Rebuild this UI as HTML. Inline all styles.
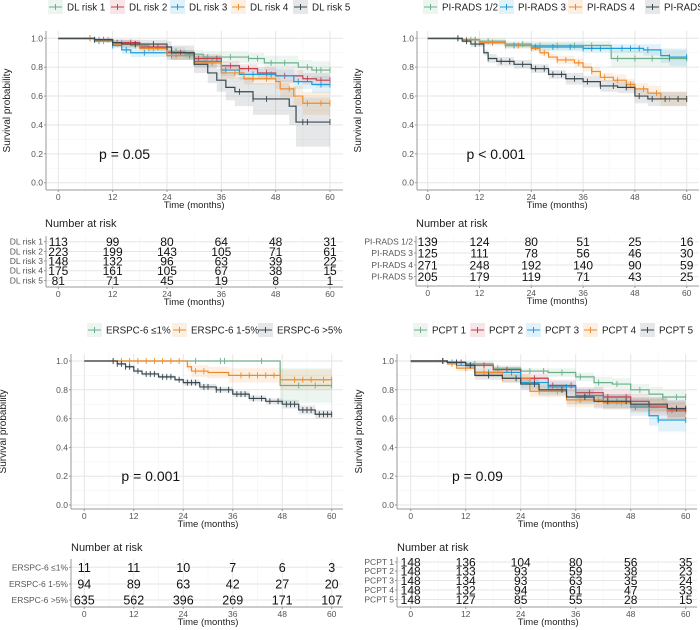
<!DOCTYPE html>
<html><head><meta charset="utf-8">
<style>
html,body{margin:0;padding:0;background:#fff;}
svg{display:block;font-family:"Liberation Sans",sans-serif;}
</style></head>
<body>
<svg id="fig" width="700" height="630" viewBox="0 0 700 630" xmlns="http://www.w3.org/2000/svg"></svg>
<script>
// ---------- DATA ----------
// Panel A: DL risk
const dlNames = ["DL risk 1","DL risk 2","DL risk 3","DL risk 4","DL risk 5"];
const dl1T=[0,8,12,16,20,24,28,32,42,45.5,53,56], dl1S=[1,.99,.97,.95,.93,.91,.89,.87,.86,.83,.80,.78], dl1C=[.01,.01,.02,.02,.02,.03,.03,.04,.04,.05,.05,.06];
const dl2T=[0,8,12,18,24,30,36,40,44,48,54,57], dl2S=[1,.99,.97,.94,.90,.86,.81,.79,.76,.74,.72,.71], dl2C=[.01,.01,.02,.02,.02,.03,.03,.03,.04,.04,.04,.05];
const dl3T=[0,8,12,14,16,24,30,36,40,48,52,56], dl3S=[1,.98,.95,.92,.90,.88,.84,.78,.75,.74,.70,.68], dl3C=[.01,.01,.02,.03,.03,.03,.04,.04,.04,.05,.05,.06];
const dl4T=[0,8,12,18,24,30,36,41,48,49,52,54], dl4S=[1,.98,.96,.93,.88,.83,.76,.72,.70,.65,.60,.55], dl4C=[.01,.01,.02,.02,.03,.03,.04,.04,.05,.06,.07,.08];
const dl5T=[0,8,12,14,24,25,30,33,35,37,39,43,51,52.5], dl5S=[1,.99,.97,.96,.94,.90,.82,.76,.71,.66,.63,.58,.53,.42], dl5C=[.01,.01,.02,.03,.04,.05,.06,.07,.08,.09,.10,.11,.13,.17];
const dl1Cens=[7,9,11,14,17,20,26,33,38,42,44,47,50,55,57,58,60], dl2Cens=[7,10,13,16,22,27,31,35,38,42,46,50,55,58,60];
const dl3Cens=[7,9,12,15,19,25,29,34,37,43,47,53,58,60], dl4Cens=[7,10,13,17,21,26,30,34,39,43,46,51,55,58,60], dl5Cens=[8,12,17,21,24,40,43,46,54,55,60];
const dlRisk=[[113,99,80,64,48,31],[223,199,143,105,71,61],[148,132,96,63,39,22],[175,161,105,67,38,15],[81,71,45,19,8,1]];
// Panel B: PI-RADS
const prNames=["PI-RADS 1/2","PI-RADS 3","PI-RADS 4","PI-RADS 5"];
const pr1T=[0,8,12,18,24,42.5], pr1S=[1,.99,.98,.96,.95,.86], pr1C=[.01,.01,.02,.02,.03,.06];
const pr2T=[0,8,12,18,24,36,50,54,56], pr2S=[1,.99,.97,.95,.94,.93,.92,.88,.87], pr2C=[.01,.01,.02,.02,.03,.03,.04,.05,.06];
const pr3T=[0,8,12,18,24,26,28,30,34,36,38,40,43,46,48,51,54], pr3S=[1,.99,.97,.95,.93,.90,.87,.85,.83,.80,.77,.73,.71,.68,.65,.62,.58], pr3C=[.01,.01,.01,.02,.02,.02,.02,.03,.03,.03,.03,.03,.04,.04,.04,.05,.05];
const pr4T=[0,8,10,13,14,16,20,24,28,32,36,40,44,48,51], pr4S=[1,.98,.96,.90,.86,.84,.82,.79,.75,.72,.70,.67,.66,.60,.58], pr4C=[.01,.01,.02,.02,.03,.03,.03,.03,.03,.04,.04,.04,.04,.05,.05];
const pr1Cens=[7,10,14,18,22,26,30,34,38,44,48,52,56,60], pr2Cens=[7,11,15,20,25,29,33,36,38,40,45,47,49,51,56,60];
const pr3Cens=[7,9,12,15,18,21,24,27,30,32,35,38,41,44,47,50,53,56,58,60], pr4Cens=[7,9,11,14,17,19,22,25,27,29,31,34,37,40,43,46,49,52,55,58,60];
const prRisk=[[139,124,80,51,25,16],[125,111,78,56,46,30],[271,248,192,140,90,59],[205,179,119,71,43,25]];
// Panel C: ERSPC-6
const erNames=["ERSPC-6 \u22641%","ERSPC-6 1-5%","ERSPC-6 >5%"];
const er1T=[0,47.5], er1S=[1,.83], er1C=[0,.12];
const er2T=[0,25,26,30,35,47.5], er2S=[1,.96,.93,.92,.90,.87], er2C=[0,.03,.04,.04,.05,.07];
const er3T=[0,6,8,10,12,14,18,22,24,28,32,36,40,44,48,52,56], er3S=[1,1,.98,.96,.93,.91,.89,.87,.85,.82,.80,.77,.74,.72,.70,.66,.63], er3C=[0,0,.01,.01,.01,.01,.01,.01,.02,.02,.02,.02,.02,.02,.03,.03,.03];
const er1Cens=[27,33,34,43,52,56,60], er2Cens=[7,9,11,13,15,17,19,21,23,27,29,38,40,42,44,46,51,53,55,58,60];
const er3Cens=[7,8,9,10,11,13,15,16,17,19,20,21,23,25,26,27,29,30,32,33,35,37,38,39,41,43,45,47,49,50,51,53,54,55,57,58,59,60];
const erRisk=[[11,11,10,7,6,3],[94,89,63,42,27,20],[635,562,396,269,171,107]];
// Panel D: PCPT
const pcNames=["PCPT 1","PCPT 2","PCPT 3","PCPT 4","PCPT 5"];
const pc1T=[0,8,12,18,24,30,36,40,44,48,52,55], pc1S=[1,.99,.98,.95,.93,.92,.89,.85,.84,.80,.77,.75], pc1C=[.01,.01,.02,.02,.02,.03,.03,.04,.04,.04,.05,.05];
const pc2T=[0,8,12,18,24,30,36,42,48,52,56], pc2S=[1,.99,.97,.94,.88,.83,.78,.75,.72,.68,.66], pc2C=[.01,.01,.02,.02,.03,.04,.04,.05,.05,.06,.06];
const pc3T=[0,8,10,14,24,30,36,42,48,52,54], pc3S=[1,.99,.97,.92,.85,.82,.76,.72,.68,.62,.59], pc3C=[.01,.01,.02,.03,.04,.04,.05,.05,.06,.07,.08];
const pc4T=[0,8,10,14,20,26,34,42,48,56], pc4S=[1,.98,.95,.92,.88,.79,.73,.71,.69,.65], pc4C=[.01,.01,.02,.03,.03,.04,.05,.05,.05,.06];
const pc5T=[0,8,12,14,20,24,28,34,40,48,56], pc5S=[1,.99,.97,.90,.88,.84,.80,.75,.72,.70,.67], pc5C=[.01,.01,.02,.03,.03,.04,.04,.05,.05,.05,.06];
const pc1Cens=[7,10,14,19,26,29,33,37,41,45,50,55,58,60], pc2Cens=[7,11,16,21,27,31,35,39,43,47,52,57,60];
const pc3Cens=[7,9,13,17,22,26,30,34,38,45,49,54,60], pc4Cens=[7,9,12,16,20,28,32,37,41,46,52,56,60], pc5Cens=[7,10,13,17,23,27,33,38,43,47,52,58,60];
const pcRisk=[[148,136,104,80,56,35],[148,133,93,59,38,23],[148,134,93,63,35,24],[148,132,94,61,47,33],[148,127,85,55,28,15]];
const xTicks=[0,12,24,36,48,60];
const yTicks=[0,0.2,0.4,0.6,0.8,1.0];
// ---------- STYLE ----------
const COL={g:"#6DAE8A",r:"#C5404A",b:"#1E9BD6",o:"#EE8A2A",k:"#36474F"};
const NS="http://www.w3.org/2000/svg";
const svg=document.getElementById("fig");
function mk(tag,attrs,parent){const e=document.createElementNS(NS,tag);for(const k in attrs)e.setAttribute(k,attrs[k]);(parent||svg).appendChild(e);return e;}
function txt(s,attrs,parent){const e=mk("text",attrs,parent);e.textContent=s;return e;}

function survAt(T,S,t){let v=S[0];for(let i=0;i<T.length;i++){if(T[i]<=t)v=S[i];}return v;}

function panel(cfg){
  const g=mk("g",{});
  
  
  const X=t=>cfg.x0+(cfg.x60-cfg.x0)*t/60;
  const Y=v=>cfg.y0+(cfg.y1-cfg.y0)*v;
  const pr=cfg.plot;
  for(let m=6;m<=66;m+=12){const xx=X(m);if(xx<pr[2])mk("line",{x1:xx,x2:xx,y1:pr[1],y2:pr[3],stroke:"#f3f3f3","stroke-width":0.6},g);}
  for(let v=0.1;v<1.1;v+=0.2){const yy=Y(v);if(yy>pr[1])mk("line",{x1:pr[0],x2:pr[2],y1:yy,y2:yy,stroke:"#f3f3f3","stroke-width":0.6},g);}
  xTicks.forEach(t=>mk("line",{x1:X(t),x2:X(t),y1:pr[1],y2:pr[3],stroke:"#e6e6e6","stroke-width":1},g));
  yTicks.forEach(v=>mk("line",{x1:pr[0],x2:pr[2],y1:Y(v),y2:Y(v),stroke:"#e6e6e6","stroke-width":1},g));
  cfg.series.forEach(s=>{
    let up="",lo="";
    for(let i=0;i<s.T.length;i++){
      const t1=s.T[i],t2=i+1<s.T.length?s.T[i+1]:60;
      const hi=Math.min(1,s.S[i]+s.C[i]),lw=Math.max(0,s.S[i]-s.C[i]);
      up+=(i?"L":"M")+X(t1)+","+Y(hi)+"L"+X(t2)+","+Y(hi);
      lo="L"+X(t2)+","+Y(lw)+"L"+X(t1)+","+Y(lw)+lo;
    }
    const b=mk("path",{d:up+lo+"Z",fill:s.col,"fill-opacity":0.13,stroke:"none"},g);
    
    
  });
  cfg.series.forEach(s=>{
    let d="M"+X(0)+","+Y(s.S[0]);
    for(let i=1;i<s.T.length;i++){d+="H"+X(s.T[i])+"V"+Y(s.S[i]);}
    d+="H"+X(60);
    const p=mk("path",{d:d,fill:"none",stroke:s.col,"stroke-width":1.2},g);
    
    
    s.cens.forEach(t=>{
      const yy=Y(survAt(s.T,s.S,t)),xx=X(t);
      const c=mk("path",{d:"M"+xx+","+(yy-3)+"V"+(yy+3),stroke:s.col,"stroke-width":0.9},g);
      
      
    });
  });
  mk("line",{x1:pr[0],x2:pr[0],y1:pr[1],y2:pr[3],stroke:"#999","stroke-width":1},g);
  mk("line",{x1:pr[0],x2:pr[2],y1:pr[3],y2:pr[3],stroke:"#999","stroke-width":1},g);
  yTicks.forEach(v=>{
    mk("line",{x1:pr[0]-2,x2:pr[0],y1:Y(v),y2:Y(v),stroke:"#999"},g);
    const t=txt(v.toFixed(1),{x:pr[0]-3,y:Y(v)+3,"font-size":8.5,fill:"#555","text-anchor":"end"},g);
    
    
  });
  xTicks.forEach(v=>{
    mk("line",{x1:X(v),x2:X(v),y1:pr[3],y2:pr[3]+2,stroke:"#999"},g);
    const t=txt(String(v),{x:X(v),y:pr[3]+10,"font-size":8.5,fill:"#555","text-anchor":"middle"},g);
    
    
  });
  const xt=txt("Time (months)",{x:(X(0)+X(60))/2,y:pr[3]+18,"font-size":9.5,fill:"#222","text-anchor":"middle"},g);
  
  
  const yt=txt("Survival probability",{x:0,y:0,"font-size":10,fill:"#222","text-anchor":"middle",transform:"translate("+cfg.ytx+","+((pr[1]+pr[3])/2)+") rotate(-90)"},g);
  
  
  const pv=txt(cfg.p,{x:X(9),y:Y(0.2)+5,"font-size":14,fill:"#111"},g);
  
  
  cfg.series.forEach((s,i)=>{
    const lx=cfg.leg[i],ly=cfg.legY;
    const lg=mk("g",{},g);
    
    
    mk("rect",{x:lx,y:ly-7,width:15,height:14,fill:s.col,"fill-opacity":0.13},lg);
    mk("line",{x1:lx+1,x2:lx+14,y1:ly,y2:ly,stroke:s.col,"stroke-width":1},lg);
    mk("line",{x1:lx+7.5,x2:lx+7.5,y1:ly-3,y2:ly+3,stroke:s.col,"stroke-width":1},lg);
    txt(s.name,{x:lx+19,y:ly+3.5,"font-size":9.8,fill:"#222"},lg);
  });
  const tb=cfg.tab;
  const tg=mk("g",{},g);
  
  
  const tt=txt("Number at risk",{x:tb.tx,y:tb.ty,"font-size":11,fill:"#222"},tg);
  
  
  for(let m=6;m<=66;m+=12){const xx=X(m);if(xx<tb.rect[2])mk("line",{x1:xx,x2:xx,y1:tb.rect[1],y2:tb.rect[3],stroke:"#f3f3f3","stroke-width":0.6},tg);}
  xTicks.forEach(t=>mk("line",{x1:X(t),x2:X(t),y1:tb.rect[1],y2:tb.rect[3],stroke:"#e6e6e6"},tg));
  tb.rows.forEach(ry=>mk("line",{x1:tb.rect[0],x2:tb.rect[2],y1:ry,y2:ry,stroke:"#e6e6e6"},tg));
  mk("line",{x1:tb.rect[0],x2:tb.rect[0],y1:tb.rect[1],y2:tb.rect[3],stroke:"#999"},tg);
  mk("line",{x1:tb.rect[0],x2:tb.rect[2],y1:tb.rect[3],y2:tb.rect[3],stroke:"#999"},tg);
  cfg.series.forEach((s,i)=>{
    const ry=tb.rows[i];
    const l=txt(s.name,{x:tb.rect[0]-3,y:ry+3,"font-size":tb.lfs,fill:"#555","text-anchor":"end"},tg);
    
    
    mk("line",{x1:tb.rect[0]-2,x2:tb.rect[0],y1:ry,y2:ry,stroke:"#999"},tg);
    cfg.risk[i].forEach((n,j)=>{
      const c=txt(String(n),{x:X(xTicks[j]),y:ry+tb.fs*0.36,"font-size":tb.fs,fill:"#111","text-anchor":"middle"},tg);
      
      
    });
  });
  xTicks.forEach(v=>{
    mk("line",{x1:X(v),x2:X(v),y1:tb.rect[3],y2:tb.rect[3]+2,stroke:"#999"},tg);
    txt(String(v),{x:X(v),y:tb.rect[3]+10,"font-size":8.5,fill:"#555","text-anchor":"middle"},tg);
  });
  txt("Time (months)",{x:(X(0)+X(60))/2,y:tb.rect[3]+18,"font-size":9.5,fill:"#222","text-anchor":"middle"},tg);
}
function ser(key,name,col,T,S,C,cens){return {key,name,col,T,S,C,cens};}

panel({id:"dl",x0:58.3,x60:330,y1:38.3,y0:182.7,plot:[46,31,343,190],ytx:10,p:"p = 0.05",
  legY:7,leg:[48,110,170,231,293],
  series:[ser("dl-risk-1",dlNames[0],COL.g,dl1T,dl1S,dl1C,dl1Cens),ser("dl-risk-2",dlNames[1],COL.r,dl2T,dl2S,dl2C,dl2Cens),
    ser("dl-risk-3",dlNames[2],COL.b,dl3T,dl3S,dl3C,dl3Cens),ser("dl-risk-4",dlNames[3],COL.o,dl4T,dl4S,dl4C,dl4Cens),ser("dl-risk-5",dlNames[4],COL.k,dl5T,dl5S,dl5C,dl5Cens)],
  risk:dlRisk,tab:{tx:45,ty:227,rect:[46,236,343,287],rows:[241.7,251.5,261,270.7,280.5],fs:12,lfs:8.5}});
panel({id:"pirads",x0:427.7,x60:686.7,y1:38.3,y0:182.7,plot:[417,31,699,190],ytx:361,p:"p < 0.001",
  legY:7,leg:[423,499,568,645],
  series:[ser("pirads-1-2",prNames[0],COL.g,pr1T,pr1S,pr1C,pr1Cens),ser("pirads-3",prNames[1],COL.b,pr2T,pr2S,pr2C,pr2Cens),
    ser("pirads-4",prNames[2],COL.o,pr3T,pr3S,pr3C,pr3Cens),ser("pirads-5",prNames[3],COL.k,pr4T,pr4S,pr4C,pr4Cens)],
  risk:prRisk,tab:{tx:416,ty:227,rect:[416,236,699,286],rows:[241.7,253,265,276.5],fs:12,lfs:8.5}});
panel({id:"erspc",x0:84.3,x60:331.7,y1:361,y0:505,plot:[71,354,343,509],ytx:6,p:"p = 0.001",
  legY:330,leg:[87,172,258],
  series:[ser("erspc-le1",erNames[0],COL.g,er1T,er1S,er1C,er1Cens),ser("erspc-1-5",erNames[1],COL.o,er2T,er2S,er2C,er2Cens),ser("erspc-gt5",erNames[2],COL.k,er3T,er3S,er3C,er3Cens)],
  risk:erRisk,tab:{tx:71,ty:551,rect:[71,559,343,607],rows:[567.3,584,600],fs:12.5,lfs:8.5}});
panel({id:"pcpt",x0:410.7,x60:685.7,y1:361,y0:505,plot:[397,354,697,509],ytx:362,p:"p = 0.09",
  legY:330,leg:[413,470,526,583,640],
  series:[ser("pcpt-1",pcNames[0],COL.g,pc1T,pc1S,pc1C,pc1Cens),ser("pcpt-2",pcNames[1],COL.r,pc2T,pc2S,pc2C,pc2Cens),
    ser("pcpt-3",pcNames[2],COL.b,pc3T,pc3S,pc3C,pc3Cens),ser("pcpt-4",pcNames[3],COL.o,pc4T,pc4S,pc4C,pc4Cens),ser("pcpt-5",pcNames[4],COL.k,pc5T,pc5S,pc5C,pc5Cens)],
  risk:pcRisk,tab:{tx:397,ty:551,rect:[397,557,697,607],rows:[562,571,580.5,590,599.5],fs:12,lfs:8.5}});
</script>
</body></html>
